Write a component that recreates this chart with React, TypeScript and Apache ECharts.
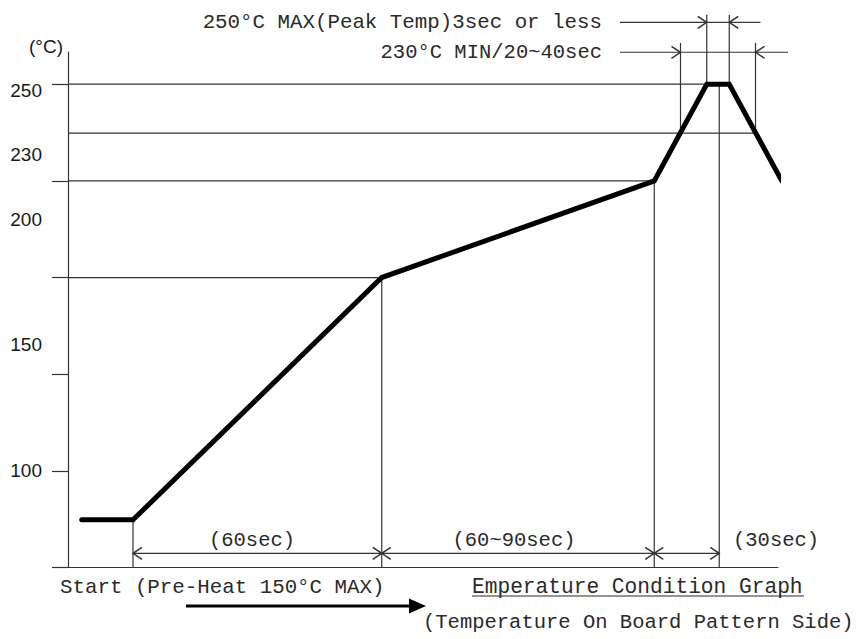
import React, { useEffect, useRef } from "react";
import * as echarts from "echarts";

// Reflow profile (schematic time units vs temperature °C)
const profileTime = [5.5, 26, 125.5, 234.5, 255.5, 264.5, 285.5];
const profileTemp = [81, 81, 175, 212.5, 250, 250, 212.5];

// Y axis ticks and labels
const yTickValues = [62.5, 100, 137.5, 175, 212.5, 250];
const yLabelValues = [100.1, 149, 197.5, 222.7, 247.4];
const yLabelTexts = ["100", "150", "200", "230", "250"];

// Horizontal guide lines (temperature, end time)
const hGuideTemp = [250, 231, 212.5, 175];
const hGuideEnd = [255.5, 275, 234.5, 125.5];

// Vertical guide lines (time, from temp, to temp)
const vGuideTime = [26, 125.5, 234.5, 260.5, 245, 275, 255.5, 264.5];
const vGuideFrom = [62.5, 62.5, 62.5, 62.5, 231, 231, 250, 250];
const vGuideTo = [81, 175, 212.5, 250, 266, 266, 277, 277];

// Dimension arrows
const dimFrom = [26, 125.5, 234.5, 220.8, 255.5, 277, 220.8, 245, 288];
const dimTo = [125.5, 234.5, 260.5, 255.5, 264.5, 264.5, 245, 275, 275];
const dimTemp = [68, 68, 68, 274, 274, 274, 262.4, 262.4, 262.4];
const dimHeadStart = [1, 1, 1, 0, 0, 0, 0, 0, 0];
const dimHeadEnd = [1, 1, 1, 1, 0, 1, 1, 0, 1];

// Texts
const spanLabels = ["(60sec)", "(60~90sec)", "(30sec)"];
const peakNote = "250°C MAX(Peak Temp)3sec or less";
const minNote = "230°C MIN/20~40sec";
const startNote = "Start (Pre-Heat 150°C MAX)";
const titleText = "Emperature Condition Graph";
const subtitleText = "(Temperature On Board Pattern Side)";
const unitText = "(°C)";

const MONO = '"Liberation Mono", "DejaVu Sans Mono", monospace';
const SANS = '"Liberation Sans", Arial, sans-serif';
const LINE = "#333";

function txt(text: string, x: number, y: number, align: string, size: number, family: string, color = "#2a2a2a") {
  return {
    type: "text",
    x,
    y,
    silent: true,
    style: {
      text,
      font: `${size}px ${family}`,
      fill: color,
      align,
      textAlign: align,
      verticalAlign: "middle",
      textVerticalAlign: "middle",
    },
  };
}

export default function App() {
  const ref = useRef<HTMLDivElement>(null);

  useEffect(() => {
    if (!ref.current) return;
    const chart = echarts.init(ref.current, null, { renderer: "svg" });

    const guideData: number[][] = [];
    hGuideTemp.forEach((t, i) => guideData.push([0, t, hGuideEnd[i], t]));
    vGuideTime.forEach((x, i) => guideData.push([x, vGuideFrom[i], x, vGuideTo[i]]));

    const dimData = dimFrom.map((f, i) => [f, dimTo[i], dimTemp[i], dimHeadStart[i], dimHeadEnd[i]]);

    const option: any = {
      animation: false,
      grid: { left: 68, top: 52, width: 710, height: 515.5, containLabel: false },
      xAxis: {
        type: "value",
        min: 0,
        max: 284,
        axisLine: { show: true, lineStyle: { color: LINE, width: 1.2 } },
        axisTick: { show: false },
        axisLabel: { show: false },
        splitLine: { show: false },
      },
      yAxis: {
        type: "value",
        min: 62.5,
        max: 262.5,
        axisLine: { show: true, lineStyle: { color: LINE, width: 1.2 } },
        axisTick: {
          show: true,
          length: 16,
          customValues: yTickValues,
          lineStyle: { color: LINE, width: 1.2 },
        },
        axisLabel: {
          show: true,
          customValues: yLabelValues,
          margin: 26,
          fontFamily: SANS,
          fontSize: 19,
          color: "#1a1a1a",
          formatter: (v: number) => {
            let best = 0;
            yLabelValues.forEach((lv, i) => {
              if (Math.abs(lv - v) < Math.abs(yLabelValues[best] - v)) best = i;
            });
            return yLabelTexts[best];
          },
        },
        splitLine: { show: false },
      },
      series: [
        {
          type: "custom",
          name: "guides",
          silent: true,
          clip: false,
          encode: { x: [0, 2], y: [1, 3] },
          data: guideData,
          renderItem: (params: any, api: any) => {
            const p1 = api.coord([api.value(0), api.value(1)]);
            const p2 = api.coord([api.value(2), api.value(3)]);
            return {
              type: "line",
              shape: { x1: p1[0], y1: p1[1], x2: p2[0], y2: p2[1] },
              style: { stroke: LINE, lineWidth: 1.2, fill: "none" },
            };
          },
        },
        {
          type: "custom",
          name: "dimensions",
          silent: true,
          clip: false,
          encode: { x: [0, 1], y: 2 },
          data: dimData,
          renderItem: (params: any, api: any) => {
            const t = api.value(2);
            const p1 = api.coord([api.value(0), t]);
            const p2 = api.coord([api.value(1), t]);
            const d = p2[0] >= p1[0] ? 1 : -1;
            const children: any[] = [
              {
                type: "line",
                shape: { x1: p1[0], y1: p1[1], x2: p2[0], y2: p2[1] },
                style: { stroke: LINE, lineWidth: 1.2, fill: "none" },
              },
            ];
            if (api.value(3)) {
              children.push({
                type: "polyline",
                shape: { points: [[p1[0] + d * 9, p1[1] - 6], [p1[0], p1[1]], [p1[0] + d * 9, p1[1] + 6]] },
                style: { stroke: LINE, lineWidth: 1.5, fill: "none" },
              });
            }
            if (api.value(4)) {
              children.push({
                type: "polyline",
                shape: { points: [[p2[0] - d * 9, p2[1] - 6], [p2[0], p2[1]], [p2[0] - d * 9, p2[1] + 6]] },
                style: { stroke: LINE, lineWidth: 1.5, fill: "none" },
              });
            }
            return { type: "group", children };
          },
        },
        {
          type: "line",
          name: "profile",
          silent: true,
          clip: false,
          symbol: "none",
          z: 5,
          data: profileTime.map((x, i) => [x, profileTemp[i]]),
          lineStyle: { color: "#000", width: 5, join: "miter", cap: "round" },
        },
      ],
      graphic: [
        txt(unitText, 63, 46, "right", 19, SANS, "#1a1a1a"),
        txt(peakNote, 602, 22, "right", 20.8, MONO),
        txt(minNote, 602, 52, "right", 20.5, MONO),
        txt(spanLabels[0], 252, 540.5, "center", 20.5, MONO),
        txt(spanLabels[1], 514, 540.5, "center", 20.5, MONO),
        txt(spanLabels[2], 733, 540.5, "left", 20.5, MONO),
        txt(startNote, 60, 587, "left", 20.8, MONO),
        txt(titleText, 472, 587, "left", 21.2, MONO),
        txt(subtitleText, 423, 622, "left", 20.5, MONO),
        {
          type: "line",
          silent: true,
          shape: { x1: 472, y1: 596, x2: 804, y2: 596 },
          style: { stroke: "#2a2a2a", lineWidth: 1.2 },
        },
        {
          type: "line",
          silent: true,
          shape: { x1: 186, y1: 606, x2: 412, y2: 606 },
          style: { stroke: "#000", lineWidth: 3 },
        },
        {
          type: "polygon",
          silent: true,
          shape: { points: [[409, 598.5], [426, 606], [409, 613.5]] },
          style: { fill: "#000" },
        },
      ],
    };

    chart.setOption(option);
    return () => chart.dispose();
  }, []);

  return (
    <div
      ref={ref}
      style={{ position: "fixed", left: 0, top: 0, width: 858, height: 639, background: "#fff" }}
    />
  );
}
